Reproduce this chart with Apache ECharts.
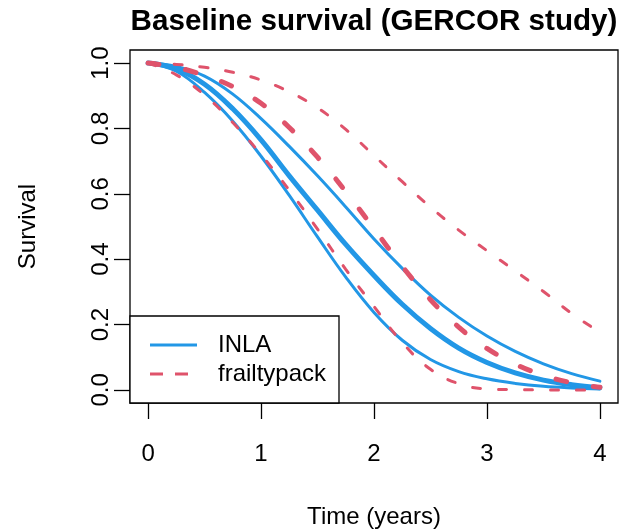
<!DOCTYPE html>
<html>
<head>
<meta charset="utf-8">
<script src="https://cdn.jsdelivr.net/npm/echarts@6/dist/echarts.min.js"></script>
<style>
  html, body { margin: 0; padding: 0; background: #fff; }
  #chart { width: 619px; height: 529px; }
</style>
</head>
<body>
<div id="chart"></div>
<script>
// time grid (years)
const times = [0, 0.25, 0.5, 0.75, 1, 1.25, 1.5, 1.75, 2, 2.25, 2.5, 2.75, 3, 3.25, 3.5, 3.75, 4];

// INLA: median + 95% band
const inlaMedian = [1, 0.982, 0.935, 0.86, 0.765, 0.655, 0.55, 0.445, 0.35, 0.262, 0.188, 0.128, 0.084, 0.052, 0.03, 0.016, 0.007];
const inlaUpper  = [1, 0.99, 0.96, 0.905, 0.83, 0.745, 0.655, 0.56, 0.462, 0.372, 0.29, 0.222, 0.165, 0.118, 0.08, 0.05, 0.027];
const inlaLower  = [1, 0.975, 0.91, 0.822, 0.715, 0.595, 0.468, 0.345, 0.237, 0.152, 0.093, 0.056, 0.034, 0.02, 0.011, 0.006, 0.003];

// frailtypack: median + 95% band
const frailMedian = [1, 0.987, 0.962, 0.928, 0.877, 0.803, 0.712, 0.607, 0.493, 0.378, 0.276, 0.192, 0.127, 0.079, 0.045, 0.022, 0.008];
const frailUpper  = [1, 0.996, 0.987, 0.972, 0.948, 0.912, 0.863, 0.797, 0.717, 0.637, 0.559, 0.489, 0.426, 0.364, 0.301, 0.234, 0.176];
const frailLower  = [1, 0.964, 0.902, 0.818, 0.72, 0.611, 0.492, 0.369, 0.255, 0.145, 0.063, 0.019, 0.003, 0.001, 0, 0, 0];

const xTicks = [0, 1, 2, 3, 4];
const yTicks = [0, 0.2, 0.4, 0.6, 0.8, 1.0];

const BLUE = "#2297E6";
const RED = "#DF536B";
const FONT = "'Liberation Sans', Arial, sans-serif";

const pairs = (ys) => times.map((t, i) => [t, ys[i]]);

function curve(name, ys, color, width, dash) {
  return {
    name: name,
    type: "line",
    data: pairs(ys),
    smooth: 0.4,
    symbol: "none",
    showSymbol: false,
    silent: true,
    lineStyle: {
      color: color,
      width: width,
      type: dash || "solid",
      cap: "round",
    },
    itemStyle: { color: color },
    emphasis: { disabled: true },
  };
}

const chart = echarts.init(document.getElementById("chart"));

chart.setOption({
  animation: false,
  backgroundColor: "#fff",
  title: {
    text: "Baseline survival (GERCOR study)",
    left: 369,
    top: 2,
    textAlign: "center",
    textStyle: { fontFamily: FONT, fontSize: 29.6, fontWeight: "bold", color: "#000" },
  },
  grid: {
    left: 130,
    right: 1,
    top: 50,
    bottom: 126,
    outerBoundsMode: "none",
    show: true,
    borderColor: "#000",
    borderWidth: 1.3,
    backgroundColor: "transparent",
  },
  xAxis: {
    type: "value",
    min: -0.16,
    max: 4.16,
    name: "Time (years)",
    nameLocation: "middle",
    nameGap: 102,
    nameTextStyle: { fontFamily: FONT, fontSize: 24, color: "#000" },
    axisLine: { show: false, onZero: false },
    splitLine: { show: false },
    axisTick: { show: true, length: 16, customValues: xTicks, lineStyle: { color: "#000", width: 1.3 } },
    axisLabel: { customValues: xTicks, margin: 39, fontFamily: FONT, fontSize: 24, color: "#000" },
  },
  yAxis: {
    type: "value",
    min: -0.04,
    max: 1.04,
    name: "Survival",
    nameLocation: "middle",
    nameGap: 90,
    nameTextStyle: { fontFamily: FONT, fontSize: 24, color: "#000" },
    axisLine: { show: false, onZero: false },
    splitLine: { show: false },
    axisTick: { show: true, length: 16, customValues: yTicks, lineStyle: { color: "#000", width: 1.3 } },
    axisLabel: {
      customValues: yTicks,
      rotate: 90,
      margin: 17,
      fontFamily: FONT,
      fontSize: 24,
      color: "#000",
      formatter: (v) => v.toFixed(1),
    },
  },
  // legend box drawn like R's bottomleft legend
  graphic: [
    {
      type: "rect",
      z: 100,
      shape: { x: 130, y: 316, width: 209, height: 87 },
      style: { fill: "#fff", stroke: "#000", lineWidth: 1.3 },
    },
    {
      type: "line",
      z: 101,
      shape: { x1: 150, y1: 345, x2: 197, y2: 345 },
      style: { stroke: BLUE, lineWidth: 3 },
    },
    {
      type: "text",
      z: 101,
      x: 218,
      y: 345,
      style: { text: "INLA", font: "24px " + FONT, fill: "#000", verticalAlign: "middle" },
    },
    {
      type: "line",
      z: 101,
      shape: { x1: 150, y1: 374, x2: 188, y2: 374 },
      style: { stroke: RED, lineWidth: 3, lineDash: [13, 12] },
    },
    {
      type: "text",
      z: 101,
      x: 218,
      y: 374,
      style: { text: "frailtypack", font: "24px " + FONT, fill: "#000", verticalAlign: "middle" },
    },
  ],
  series: [
    curve("INLA", inlaUpper, BLUE, 3),
    curve("INLA", inlaMedian, BLUE, 5),
    curve("INLA", inlaLower, BLUE, 3),
    curve("frailtypack", frailUpper, RED, 3, [8, 18]),
    curve("frailtypack", frailMedian, RED, 5, [11, 27]),
    curve("frailtypack", frailLower, RED, 3, [8, 18]),
  ],
});
</script>
</body>
</html>
